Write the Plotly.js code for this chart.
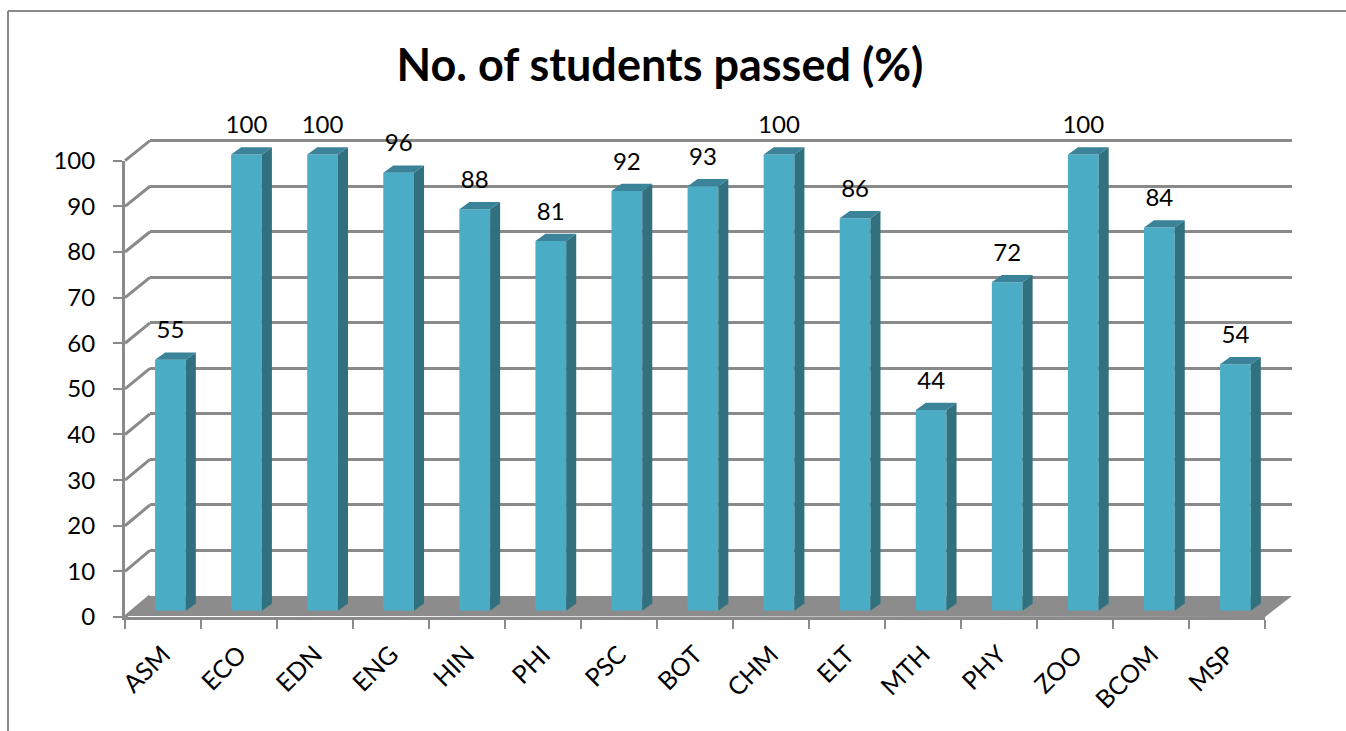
<!DOCTYPE html>
<html>
<head>
<meta charset="utf-8">
<script src="https://cdn.plot.ly/plotly-3.0.1.min.js"></script>
<style>
  html, body { margin: 0; padding: 0; background: #fff; overflow: hidden; }
</style>
</head>
<body>
<div id="chart"></div>
<script>
const categories = ["ASM", "ECO", "EDN", "ENG", "HIN", "PHI", "PSC", "BOT", "CHM", "ELT", "MTH", "PHY", "ZOO", "BCOM", "MSP"];
const passed = [55, 100, 100, 96, 88, 81, 92, 93, 100, 86, 44, 72, 100, 84, 54];
const yTicks = [0, 10, 20, 30, 40, 50, 60, 70, 80, 90, 100];

const W = 1346, H = 731;
const px = (v) => v / W;
const py = (v) => 1 - v / H;

const grey = "#8A8A8A";
const barW = 0.404;    // in category widths
const depthX = 0.132;  // bar depth along the category axis
const depthY = 1.6;    // bar depth in value units
const labelGap = 4.4;

const indices = categories.map((c, i) => i);

// side and top faces of each bar, worked out from the values
let sideX = [], sideY = [], topX = [], topY = [];
passed.forEach((v, i) => {
  const r = i + barW / 2, l = i - barW / 2;
  sideX.push(r, r + depthX, r + depthX, r, r, null);
  sideY.push(0, depthY, v + depthY, v, 0, null);
  topX.push(l, r, r + depthX, l + depthX, l, null);
  topY.push(v, v, v + depthY, v + depthY, v, null);
});

const data = [
  // dummy traces so the front axes and the back wall get drawn
  { x: categories, y: passed, type: "scatter", mode: "none", xaxis: "x", yaxis: "y", hoverinfo: "skip" },
  { x: [0], y: [0], type: "scatter", mode: "none", xaxis: "x2", yaxis: "y2", hoverinfo: "skip" },
  {
    x: indices, y: passed, type: "bar", width: barW, xaxis: "x3", yaxis: "y3",
    marker: { color: "#4BACC6", line: { width: 0 } },
  },
  {
    x: sideX, y: sideY, type: "scatter", mode: "lines", fill: "toself", xaxis: "x3", yaxis: "y3",
    fillcolor: "#31707F", line: { width: 0 }, hoverinfo: "skip",
  },
  {
    x: topX, y: topY, type: "scatter", mode: "lines", fill: "toself", xaxis: "x3", yaxis: "y3",
    fillcolor: "#3A8399", line: { width: 0 }, hoverinfo: "skip",
  },
  {
    x: indices, y: passed.map((v) => v + depthY + labelGap), type: "scatter", mode: "text",
    text: passed.map(String), textposition: "middle center", cliponaxis: false,
    textfont: { family: "Lato", size: 24, color: "#000" }, xaxis: "x3", yaxis: "y3",
  },
];

// floor, wall edges and chart border
const frontY = (v) => 617 - v * 4.563;
const backY = (v) => 596 - v * 4.553;
let shapes = [
  {
    type: "path", xref: "paper", yref: "paper", layer: "below", fillcolor: "#8C8C8C", line: { width: 0 },
    path: `M ${px(127)} ${py(616)} L ${px(150)} ${py(596)} L ${px(1292)} ${py(596)} L ${px(1265)} ${py(617)} Z`,
  },
  { type: "line", xref: "paper", yref: "paper", layer: "below", x0: px(8), x1: px(8), y0: py(731), y1: py(11), line: { color: grey, width: 2 } },
  { type: "line", xref: "paper", yref: "paper", layer: "below", x0: px(8), x1: px(1346), y0: py(11), y1: py(11), line: { color: grey, width: 2 } },
];
yTicks.forEach((t) => {
  shapes.push({
    type: "line", xref: "paper", yref: "paper", layer: "below",
    x0: px(125), x1: px(150), y0: py(frontY(t)), y1: py(backY(t)), line: { color: grey, width: 3 },
  });
});

const layout = {
  width: W, height: H,
  margin: { l: 0, r: 0, t: 0, b: 0 },
  paper_bgcolor: "#fff", plot_bgcolor: "rgba(0,0,0,0)",
  showlegend: false,
  title: {
    text: "<b>No. of students passed (%)</b>",
    x: px(660), xanchor: "center", y: py(65), yanchor: "middle",
    font: { family: "Lato", size: 45, color: "#000" },
  },
  // front plane with the visible axes
  xaxis: {
    domain: [px(125), px(1265)], type: "category", categoryorder: "array", categoryarray: categories,
    range: [-0.5, 14.5], tickson: "boundaries", ticks: "outside", ticklen: 9, tickwidth: 2, tickcolor: grey,
    showline: true, linecolor: grey, linewidth: 3, showgrid: false, zeroline: false,
    tickangle: -45, tickfont: { family: "Lato", size: 25, color: "#000" }, ticklabelstandoff: 10,
    anchor: "y",
  },
  yaxis: {
    domain: [py(617), py(160.7)], range: [0, 100], tickvals: yTicks, ticks: "outside", ticklen: 9, tickwidth: 2, tickcolor: grey,
    showline: true, linecolor: grey, linewidth: 3, showgrid: false, zeroline: false,
    tickfont: { family: "Lato", size: 24, color: "#000" }, ticklabelstandoff: 13,
    anchor: "x",
  },
  // back wall, only its gridlines show (range runs past 100 so the top line is kept)
  xaxis2: { domain: [px(150), px(1292)], range: [0, 1], showticklabels: false, ticks: "", showgrid: false, zeroline: false, anchor: "y2" },
  yaxis2: {
    domain: [py(596), py(131.6)], range: [0, 102], tickvals: yTicks, showticklabels: false, ticks: "",
    showgrid: true, gridcolor: grey, gridwidth: 3, zeroline: false, anchor: "x2",
  },
  // plane the bars stand on, shifted in from the front
  xaxis3: { domain: [px(132.4), px(1311.5)], range: [-0.5, 15], visible: false, anchor: "y3" },
  yaxis3: { domain: [py(610.7), py(108.8)], range: [0, 110], visible: false, anchor: "x3" },
  shapes: shapes,
};

Plotly.newPlot("chart", data, layout, { displayModeBar: false, staticPlot: true });
</script>
</body>
</html>
